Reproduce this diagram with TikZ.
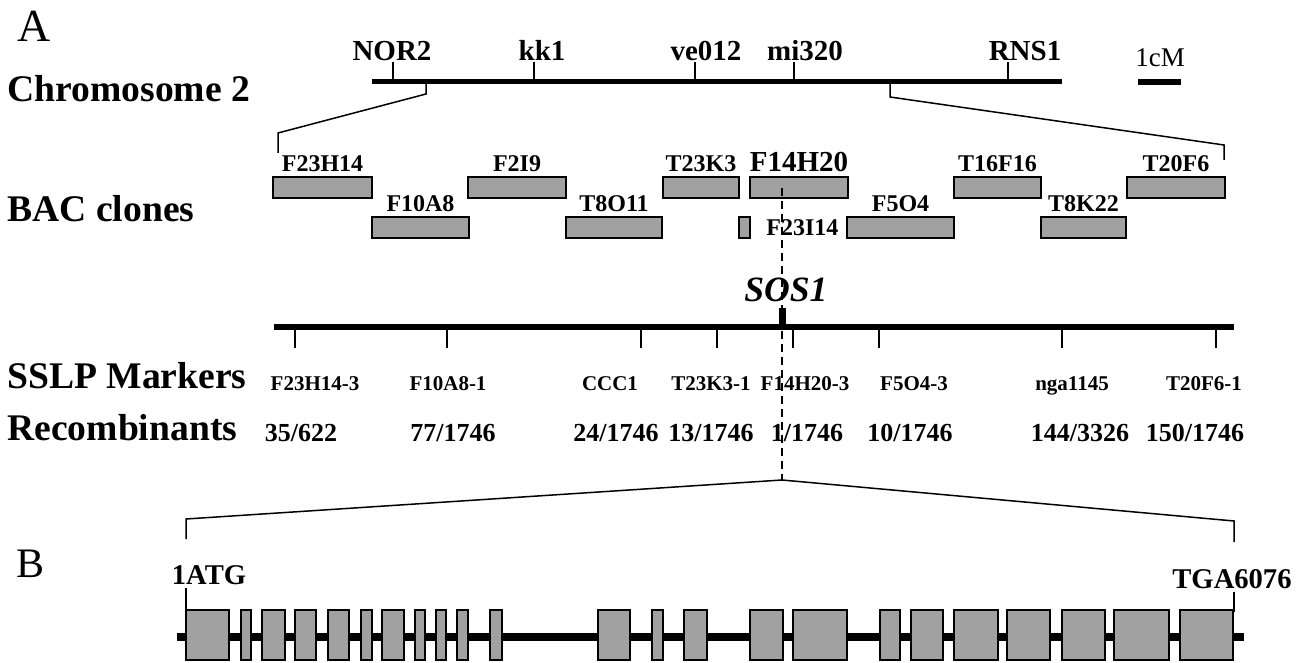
\documentclass[tikz,border=0pt]{standalone}
\usepackage{fontspec}
\setmainfont{Liberation Serif}
\usetikzlibrary{positioning}

\begin{document}
\begin{tikzpicture}[
  x=0.5pt, y=-0.5pt,
  panel/.style={font=\fontsize{23}{26}\selectfont, inner sep=0pt, anchor=base west},
  rowlab/.style={font=\fontsize{18.8}{22}\selectfont\bfseries, inner sep=0pt, anchor=base west},
  maplab/.style={font=\fontsize{14.5}{17}\selectfont\bfseries, inner sep=0pt, anchor=base},
  clone/.style={draw, line width=1pt, fill=black!37, inner sep=0pt, minimum height=10.5pt},
  clonelab/.style={font=\fontsize{12}{14}\selectfont\bfseries, inner sep=0pt},
  mklab/.style={font=\fontsize{10.5}{13}\selectfont\bfseries, inner sep=0pt, anchor=base},
  reclab/.style={font=\fontsize{13}{15}\selectfont\bfseries, inner sep=0pt, anchor=base},
  exon/.style={draw, line width=0.8pt, fill=black!37},
  tickline/.style={line width=0.75pt},
  chrom/.style={line width=2.8pt},
  guide/.style={line width=0.6pt, dash pattern=on 4pt off 2.5pt}
]
\useasboundingbox (0,0) rectangle (1307,663);

\node[panel] (pA) at (17,42) {A};
\node[panel, font=\fontsize{21}{24}\selectfont] (pB) at (16,577) {B};
\node[rowlab] (chr) at (7,102) {Chromosome 2};
\node[rowlab] (bac) at (7,222) {BAC clones};
\node[rowlab] (sslp) at (7,388) {SSLP Markers};
\node[rowlab] (rec) at (7,440) {Recombinants};

% chromosome 2 map
\draw[chrom] (372,81.5) -- (1062,81.5);
\foreach \x/\n/\lx in {393/NOR2/392, 534/kk1/542, 695/ve012/706, 794/mi320/805, 1008/RNS1/1025} {
  \draw[tickline] (\x,81.5) -- (\x,62);
  \node[maplab] (map\n) at (\lx,61) {\n};
}
\node[font=\fontsize{13.5}{16}\selectfont, inner sep=0pt, anchor=base] (cm) at (1160,67) {1cM};
\draw[chrom] (1138,82) -- (1181,82);
\draw[tickline] (426,84) -- (426,94) -- (278,133) -- (278,153);
\draw[tickline] (890,84) -- (890,97) -- (1224,145) -- (1224,160);

% BAC contig
\foreach \n/\cx/\w in {F23H14/322.5/49.5, F2I9/517/49, T23K3/701/38, T16F16/997.5/43.5, T20F6/1176/49} {
  \node[clone, minimum width=\w pt] (\n) at (\cx,187.5) {};
  \node[clonelab, above=2pt of \n] (lab\n) {\n};
}
\node[clone, minimum width=49pt] (F14H20) at (799,187.5) {};
\node[clonelab, font=\fontsize{14.5}{17}\selectfont\bfseries, above=2pt of F14H20] (labF14H20) {F14H20};
\foreach \n/\cx/\w in {F10A8/420.5/48.5, T8O11/614/48, F5O4/900.5/53.5, T8K22/1083.5/42.5} {
  \node[clone, minimum width=\w pt] (\n) at (\cx,228) {};
  \node[clonelab, above=2pt of \n] (lab\n) {\n};
}
\node[clone, minimum width=5.5pt] (F23I14) at (744.5,228) {};
\node[clonelab, right=7.5pt of F23I14] (labF23I14) {F23I14};

% SSLP markers
\draw[line width=3pt] (274,327) -- (1234,327);
\foreach \x in {295,447,641,717,793,879,1062,1216}
  \draw[tickline] (\x,329) -- (\x,348);
\draw[line width=3.5pt] (782.5,327) -- (782.5,308);
\node[font=\fontsize{17.8}{20}\selectfont\bfseries\itshape, inner sep=0pt, anchor=base] (sos) at (786,302) {SOS1};
\foreach \lx/\t in {315/F23H14-3, 448/F10A8-1, 610/CCC1, 711/T23K3-1, 805/F14H20-3, 914/F5O4-3, 1072/nga1145, 1204/T20F6-1}
  \node[mklab] (mk\t) at (\lx,390) {\t};
\foreach \lx/\t in {301/{35/622}, 453/{77/1746}, 616/{24/1746}, 711/{13/1746}, 807/{1/1746}, 910/{10/1746}, 1080/{144/3326}, 1195/{150/1746}}
  \node[reclab] at (\lx,441) {\t};

% SOS1 gene
\coordinate (sosTop) at (782,188);
\coordinate (apex) at (782,480);
\draw[guide] (sosTop) -- (apex);
\draw[tickline] (186,539) -- (186,519) -- (apex) -- (1234,521) -- (1234,542);
\node[reclab, font=\fontsize{14.3}{17}\selectfont\bfseries] (atg) at (209,584) {1ATG};
\node[reclab, font=\fontsize{14.3}{17}\selectfont\bfseries] (tga) at (1232,588) {TGA6076};
\draw[tickline] (186,588) -- (186,610);
\draw[tickline] (1234,592) -- (1234,612);
\draw[line width=4pt] (177,637) -- (1244,637);
\foreach \a/\b in {186/229, 241/251, 262/285, 295/316, 328/349, 361/372, 382/404, 415/425, 436/446, 457/468, 490/502, 598/630, 652/663, 684/707, 750/783, 793/847, 880/900, 911/943, 954/998, 1007/1050, 1062/1105, 1114/1169, 1180/1233}
  \draw[exon] (\a,610) rectangle (\b,660);
\end{tikzpicture}
\end{document}
